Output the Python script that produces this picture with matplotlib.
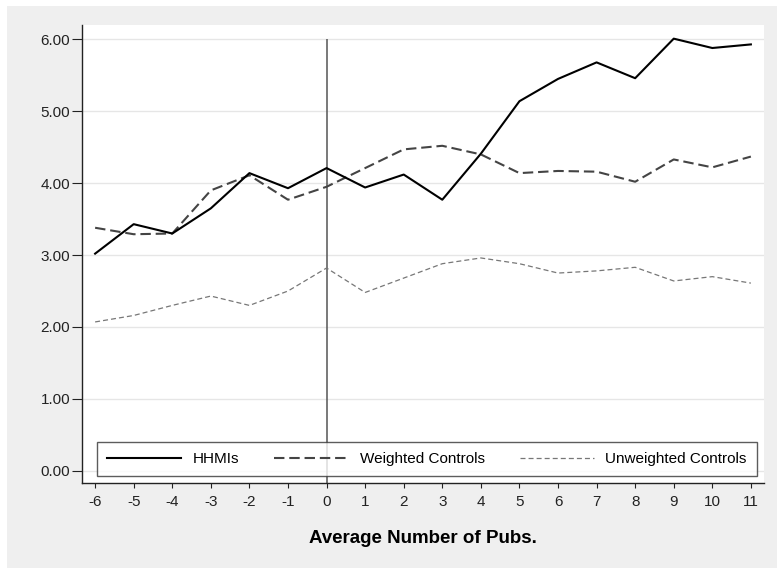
import matplotlib
matplotlib.use("Agg")
import matplotlib.pyplot as plt
from matplotlib.patches import Rectangle

plt.rcParams['font.family'] = ['Liberation Sans', 'DejaVu Sans']
plt.rcParams['lines.scale_dashes'] = False
plt.rcParams['axes.unicode_minus'] = False

# --- Data ---
years = [-6, -5, -4, -3, -2, -1, 0, 1, 2, 3, 4, 5, 6, 7, 8, 9, 10, 11]
hhmis = [3.02, 3.43, 3.30, 3.65, 4.14, 3.93, 4.21, 3.94, 4.12, 3.77,
         4.41, 5.14, 5.45, 5.68, 5.46, 6.01, 5.88, 5.93]
weighted = [3.38, 3.29, 3.30, 3.90, 4.11, 3.77, 3.95, 4.21, 4.47, 4.52,
            4.40, 4.14, 4.17, 4.16, 4.02, 4.33, 4.22, 4.37]
unweighted = [2.07, 2.16, 2.30, 2.43, 2.30, 2.50, 2.82, 2.48, 2.68, 2.88,
              2.96, 2.88, 2.75, 2.78, 2.83, 2.64, 2.70, 2.61]
yticks = [0, 1, 2, 3, 4, 5, 6]

fig = plt.figure(figsize=(7.77, 5.68), dpi=100)
fig.patch.set_facecolor('white')
# grey panel behind the plot region
fig.patches.append(Rectangle((7 / 777, 0), 770 / 777, 562 / 568,
                             transform=fig.transFigure, facecolor='#efefef',
                             edgecolor='none', zorder=-10))

ax = fig.add_axes([82 / 777, 85 / 568, 682 / 777, 458 / 568])
ax.set_facecolor('white')

ax.plot(years, hhmis, color='black', lw=1.5, label='HHMIs', zorder=4)
ax.plot(years, weighted, color='#444444', lw=1.5, linestyle=(0, (7.5, 3.5)),
        label='Weighted Controls', zorder=3)
ax.plot(years, unweighted, color='#777777', lw=0.9, linestyle=(0, (3.6, 2.2)),
        label='Unweighted Controls', zorder=3)

# event marker at year 0
ax.vlines(0, -0.17, 6, color='#555555', lw=1.1, zorder=2)

ax.set_xlim(-6.34, 11.34)
ax.set_ylim(-0.17, 6.2)
ax.set_xticks(years)
ax.set_yticks(yticks)
ax.set_yticklabels([f"{v:.2f}" for v in yticks])
ax.yaxis.grid(True, color='#e6e6e6', lw=1.0)
ax.set_axisbelow(True)

for side in ['top', 'right']:
    ax.spines[side].set_visible(False)
for side in ['left', 'bottom']:
    ax.spines[side].set_color('#222222')
    ax.spines[side].set_linewidth(1.0)

ax.tick_params(axis='y', length=7.5, width=0.8, pad=1, labelsize=11,
               colors='#222222')
ax.tick_params(axis='x', length=3.5, width=0.8, pad=5, labelsize=11,
               colors='#222222')

ax.set_xlabel('Average Number of Pubs.', fontsize=13.5, fontweight='bold',
              labelpad=15)

leg = ax.legend(loc='lower left', bbox_to_anchor=(0.022, 0.015),
                ncol=3, fontsize=11, handlelength=4.85, handletextpad=0.75,
                columnspacing=2.3, frameon=True, fancybox=False,
                borderaxespad=0, borderpad=0.65)
leg.get_frame().set_edgecolor('#333333')
leg.get_frame().set_linewidth(1.0)
leg.set_zorder(10)

fig.savefig('out.png', dpi=100, facecolor=fig.get_facecolor())
